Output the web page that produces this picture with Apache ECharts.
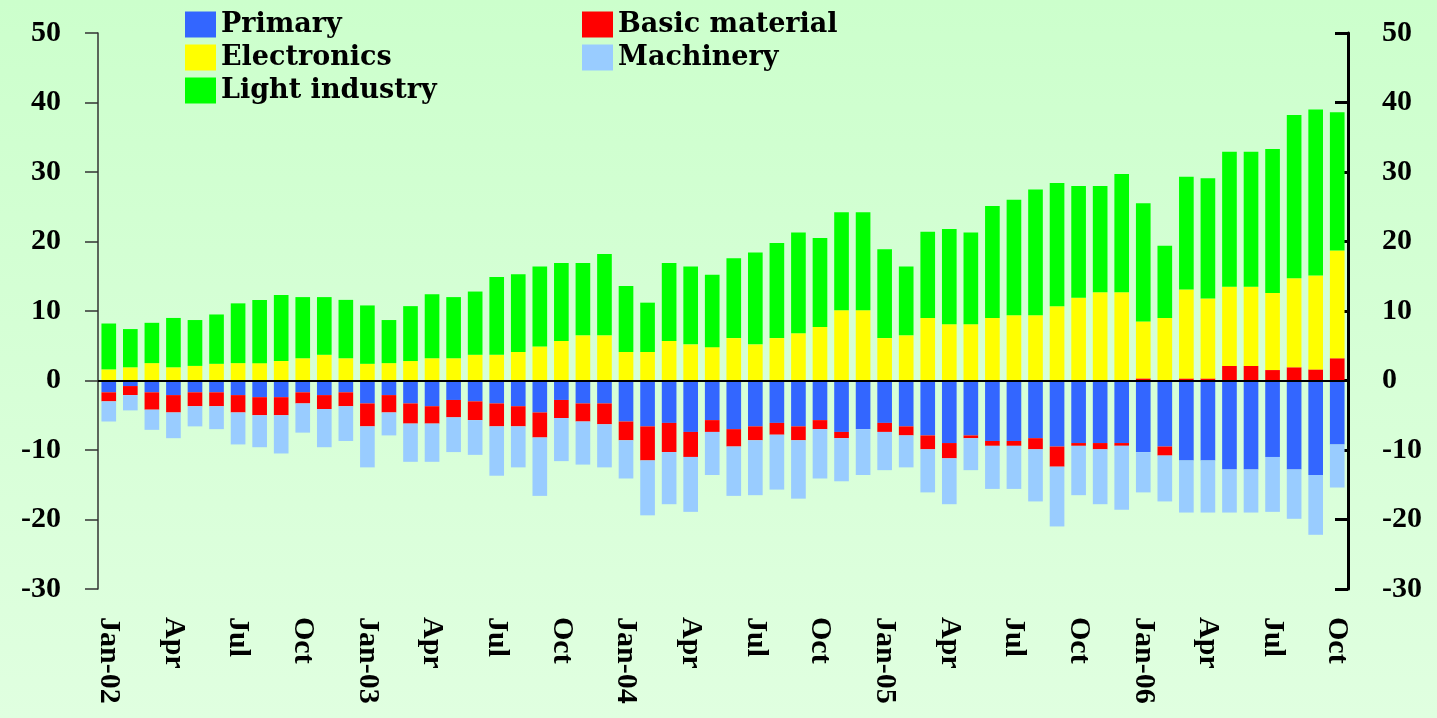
<!DOCTYPE html>
<html>
<head>
<meta charset="utf-8">
<script src="https://cdn.jsdelivr.net/npm/echarts@6/dist/echarts.min.js"></script>
<style>
html, body { margin: 0; padding: 0; }
#main { width: 1437px; height: 718px; }
</style>
</head>
<body>
<div id="main"></div>
<script>
// months Jan-02 .. Oct-06
const monthNames = ['Jan', 'Feb', 'Mar', 'Apr', 'May', 'Jun', 'Jul', 'Aug', 'Sep', 'Oct', 'Nov', 'Dec']
const months = []
for (let y = 2; y <= 6; y++) {
  for (let m = 0; m < 12; m++) {
    if (y === 6 && m > 9) break
    months.push(monthNames[m] + '-0' + y)
  }
}

const yTicks = { min: -30, max: 50, interval: 10 }

const primary = [
  -1.7, -0.8, -1.7, -2.1, -1.7, -1.7, -2.1, -2.4, -2.4, -1.7, -2.1, -1.7,
  -3.3, -2.1, -3.3, -3.7, -2.8, -3.0, -3.3, -3.7, -4.6, -2.8, -3.3, -3.3,
  -5.9, -6.6, -6.1, -7.4, -5.7, -7.0, -6.6, -6.1, -6.6, -5.7, -7.4, -7.0,
  -6.1, -6.6, -7.9, -9.0, -7.9, -8.7, -8.7, -8.3, -9.5, -9.0, -9.0, -9.0,
  -10.3, -9.5, -11.5, -11.5, -12.8, -12.8, -11.0, -12.8, -13.6, -9.2
]
const basicMaterial = [
  -1.3, -1.3, -2.5, -2.5, -2.0, -2.0, -2.5, -2.6, -2.6, -1.6, -2.0, -2.0,
  -3.3, -2.5, -2.9, -2.5, -2.5, -2.7, -3.3, -2.9, -3.6, -2.6, -2.6, -3.0,
  -2.7, -4.9, -4.2, -3.6, -1.7, -2.5, -2.0, -1.7, -2.0, -1.3, -0.9, 0,
  -1.3, -1.3, -2.0, -2.2, -0.4, -0.7, -0.7, -1.6, -2.9, -0.4, -0.9, -0.4,
  0.3, -1.3, 0.3, 0.3, 2.1, 2.1, 1.5, 1.9, 1.6, 3.2
]
const electronics = [
  1.6, 1.9, 2.5, 1.9, 2.1, 2.4, 2.5, 2.5, 2.8, 3.2, 3.7, 3.2,
  2.4, 2.5, 2.8, 3.2, 3.2, 3.7, 3.7, 4.1, 4.9, 5.7, 6.5, 6.5,
  4.1, 4.1, 5.7, 5.2, 4.8, 6.1, 5.2, 6.1, 6.8, 7.7, 10.1, 10.1,
  6.1, 6.5, 9.0, 8.1, 8.1, 9.0, 9.4, 9.4, 10.7, 11.9, 12.7, 12.7,
  8.2, 9.0, 12.8, 11.5, 11.4, 11.4, 11.1, 12.8, 13.5, 15.5
]
const machinery = [
  -2.9, -2.2, -2.9, -3.7, -2.9, -3.3, -4.6, -4.6, -5.5, -4.2, -5.5, -5.0,
  -5.9, -3.3, -5.5, -5.5, -5.0, -5.0, -7.1, -5.9, -8.4, -6.2, -6.2, -6.2,
  -5.5, -7.9, -7.5, -7.9, -6.2, -7.1, -7.9, -7.9, -8.4, -7.1, -6.2, -6.6,
  -5.5, -4.6, -6.2, -6.6, -4.6, -6.2, -6.2, -7.5, -8.6, -7.1, -7.9, -9.2,
  -5.8, -6.6, -7.5, -7.5, -6.2, -6.2, -7.9, -7.1, -8.6, -6.2
]
const lightIndustry = [
  6.6, 5.5, 5.8, 7.1, 6.6, 7.1, 8.6, 9.1, 9.5, 8.8, 8.3, 8.4,
  8.4, 6.2, 7.9, 9.2, 8.8, 9.1, 11.2, 11.2, 11.5, 11.2, 10.4, 11.7,
  9.5, 7.1, 11.2, 11.2, 10.4, 11.5, 13.2, 13.7, 14.5, 12.8, 14.1, 14.1,
  12.8, 9.9, 12.4, 13.7, 13.2, 16.1, 16.6, 18.1, 17.7, 16.1, 15.3, 17.0,
  17.0, 10.4, 16.2, 17.3, 19.4, 19.4, 20.7, 23.5, 23.9, 19.9
]

const myChart = echarts.init(document.getElementById('main'))

const axisFont = {
  fontFamily: 'Liberation Serif',
  fontWeight: 'bold',
  fontSize: 30,
  color: '#000'
}

function barSeries(name, data, color) {
  return {
    name: name,
    type: 'bar',
    stack: 'total',
    data: data,
    barCategoryGap: '32%',
    itemStyle: { color: color },
    animation: false
  }
}

const series = [
  barSeries('Primary', primary, '#3366ff'),
  barSeries('Basic material', basicMaterial, '#ff0000'),
  barSeries('Electronics', electronics, '#ffff00'),
  barSeries('Machinery', machinery, '#99ccff'),
  barSeries('Light industry', lightIndustry, '#00ff00')
]
// zero line over the bars
series[4].markLine = {
  silent: true,
  symbol: 'none',
  animation: false,
  label: { show: false },
  lineStyle: { color: '#000', width: 2, type: 'solid' },
  data: [{ yAxis: 0 }]
}

const legendText = {
  fontFamily: 'DejaVu Serif',
  fontWeight: 'bold',
  fontSize: 27,
  color: '#000'
}

const option = {
  backgroundColor: {
    type: 'linear',
    x: 0, y: 0, x2: 0, y2: 1,
    colorStops: [
      { offset: 0, color: '#ccffcc' },
      { offset: 1, color: '#e0ffe0' }
    ]
  },
  legend: [
    {
      data: ['Primary', 'Electronics', 'Light industry'],
      orient: 'vertical',
      left: 180,
      top: 6,
      icon: 'rect',
      itemWidth: 31,
      itemHeight: 26,
      itemGap: 6,
      padding: 5,
      textStyle: legendText
    },
    {
      data: ['Basic material', 'Machinery'],
      orient: 'vertical',
      left: 577,
      top: 6,
      icon: 'rect',
      itemWidth: 31,
      itemHeight: 26,
      itemGap: 6,
      padding: 5,
      textStyle: legendText
    }
  ],
  grid: {
    left: 98,
    right: 89,
    top: 33,
    bottom: 129
  },
  xAxis: {
    type: 'category',
    data: months,
    axisLine: { show: false },
    axisTick: { show: false },
    axisLabel: {
      interval: 2,
      rotate: -90,
      margin: 28,
      ...axisFont,
      fontSize: 30,
      formatter: function (v) {
        return v.indexOf('Jan') === 0 ? v : v.slice(0, 3)
      }
    },
    splitLine: { show: false }
  },
  yAxis: [
    {
      type: 'value',
      position: 'left',
      min: yTicks.min,
      max: yTicks.max,
      interval: yTicks.interval,
      axisLine: { show: true, lineStyle: { color: '#333', width: 1.5 } },
      axisTick: { show: true, length: 13, lineStyle: { color: '#333', width: 1.5 } },
      axisLabel: { margin: 37, ...axisFont },
      splitLine: { show: false }
    },
    {
      type: 'value',
      position: 'right',
      min: yTicks.min,
      max: yTicks.max,
      interval: yTicks.interval,
      axisLine: { show: true, lineStyle: { color: '#000', width: 3 } },
      axisTick: { show: true, inside: true, length: 13, lineStyle: { color: '#000', width: 3 } },
      axisLabel: { margin: 34, ...axisFont },
      splitLine: { show: false }
    }
  ],
  series: series
}

myChart.setOption(option)
</script>
</body>
</html>
